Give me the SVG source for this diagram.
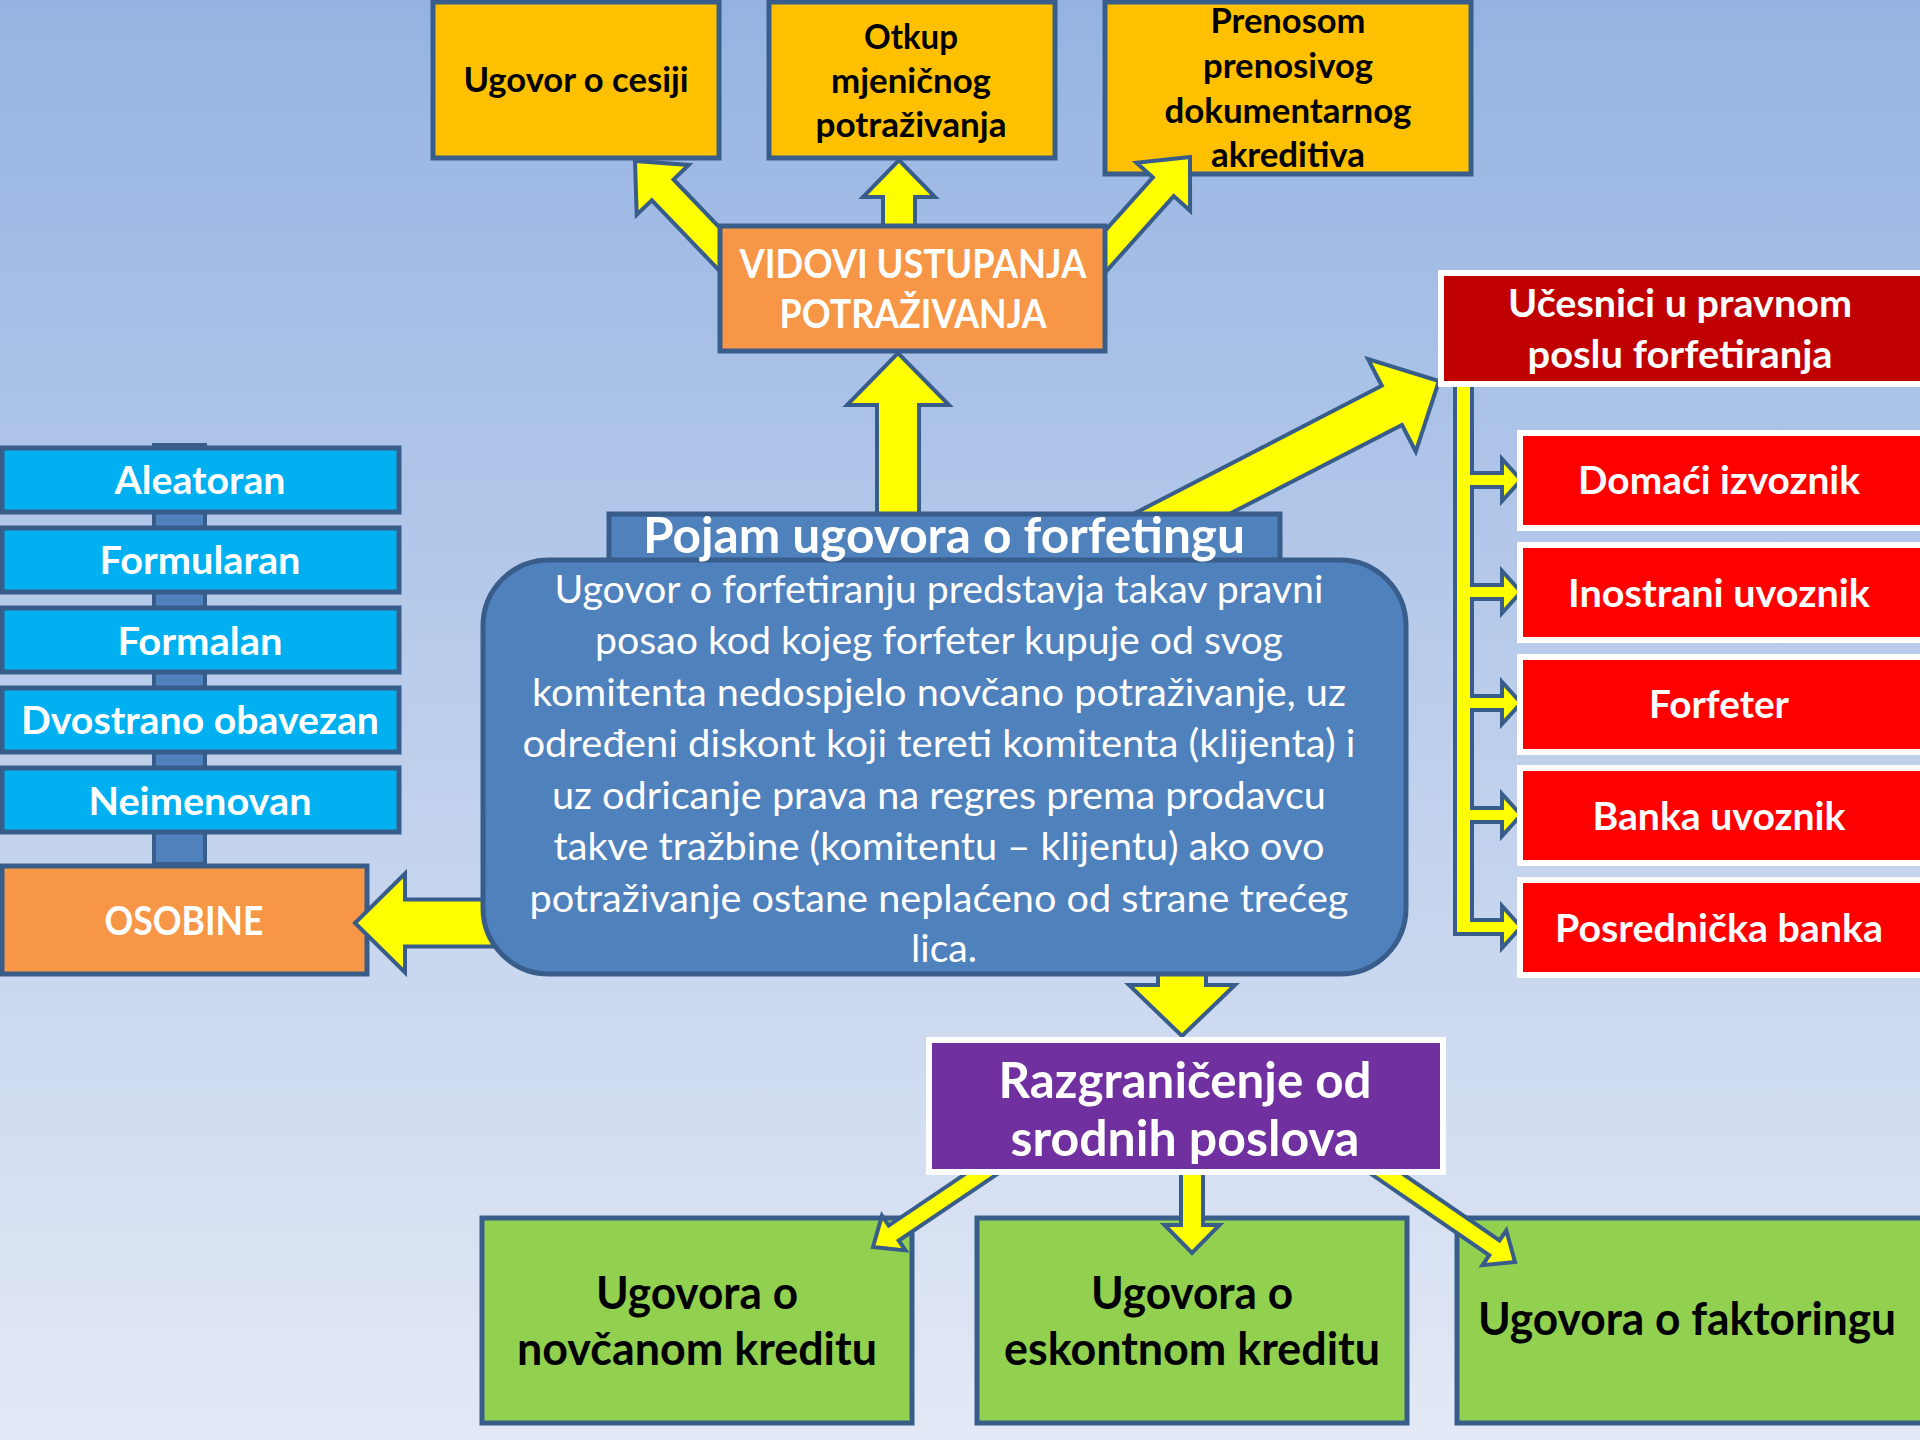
<svg xmlns="http://www.w3.org/2000/svg" width="1920" height="1440" viewBox="0 0 1920 1440">
<defs>
<linearGradient id="bg" x1="0" y1="0" x2="0" y2="1">
<stop offset="0" stop-color="#95B3E2"/>
<stop offset="1" stop-color="#E3E9F5"/>
</linearGradient>
<style>
.box{stroke:#385D8A;stroke-width:5}
.wbox{stroke:#FFFFFF;stroke-width:6}
.arr{fill:#FFFF00;stroke:#385D8A;stroke-width:4;stroke-linejoin:miter}
.gold{fill:#FFC000}
.orange{fill:#F79646}
.blue{fill:#4F81BD}
.cyan{fill:#00B0F0}
.dred{fill:#C00000}
.red{fill:#FF0000}
.purple{fill:#7030A0}
.green{fill:#92D050}
text{font-family:Lato,"Open Sans","Liberation Sans",sans-serif;text-anchor:middle}
.b{font-weight:bold}
.w{fill:#FFFFFF}
.k{fill:#000000}
</style>
</defs>
<rect x="0" y="0" width="1920" height="1440" fill="url(#bg)"/>

<!-- lower-layer nodes -->
<g id="node-cesija">
<rect class="box gold" x="433" y="2" width="286" height="156"/>
<text class="b k" x="576" y="92" font-size="34" textLength="225" lengthAdjust="spacingAndGlyphs">Ugovor o cesiji</text>
</g>
<g id="node-otkup">
<rect class="box gold" x="769" y="2" width="286" height="156"/>
<text class="b k" font-size="34"><tspan x="911" y="49" textLength="94" lengthAdjust="spacingAndGlyphs">Otkup</tspan><tspan x="911" y="93" textLength="160" lengthAdjust="spacingAndGlyphs">mjeničnog</tspan><tspan x="911" y="137" textLength="191" lengthAdjust="spacingAndGlyphs">potraživanja</tspan></text>
</g>
<g id="node-prenos">
<rect class="box gold" x="1105" y="2" width="366" height="172"/>
<text class="b k" font-size="34"><tspan x="1288" y="33" textLength="155" lengthAdjust="spacingAndGlyphs">Prenosom</tspan><tspan x="1288" y="78" textLength="170" lengthAdjust="spacingAndGlyphs">prenosivog</tspan><tspan x="1288" y="123" textLength="247" lengthAdjust="spacingAndGlyphs">dokumentarnog</tspan><tspan x="1288" y="167" textLength="154" lengthAdjust="spacingAndGlyphs">akreditiva</tspan></text>
</g>
<g id="node-novcani">
<rect class="box green" x="482" y="1218" width="430" height="205"/>
<text class="b k" font-size="45"><tspan x="697" y="1309" textLength="202" lengthAdjust="spacingAndGlyphs">Ugovora o</tspan><tspan x="697" y="1365" textLength="360" lengthAdjust="spacingAndGlyphs">novčanom kreditu</tspan></text>
</g>
<g id="node-eskontni">
<rect class="box green" x="977" y="1218" width="430" height="205"/>
<text class="b k" font-size="45"><tspan x="1192" y="1309" textLength="202" lengthAdjust="spacingAndGlyphs">Ugovora o</tspan><tspan x="1192" y="1365" textLength="376" lengthAdjust="spacingAndGlyphs">eskontnom kreditu</tspan></text>
</g>
<g id="node-faktoring">
<rect class="box green" x="1457" y="1218" width="470" height="205"/>
<text class="b k" x="1687" y="1335" font-size="45" textLength="418" lengthAdjust="spacingAndGlyphs">Ugovora o faktoringu</text>
</g>
<g id="node-osobine">
<rect class="box orange" x="2" y="866" width="365" height="108"/>
<text class="b w" x="184" y="935" font-size="40" textLength="159" lengthAdjust="spacingAndGlyphs">OSOBINE</text>
</g>

<!-- connectors -->
<g id="connectors">
<rect x="154" y="445" width="51" height="419" fill="#4F81BD" stroke="#385D8A" stroke-width="4"/>
<polygon class="arr" transform="translate(635,161) rotate(226.2)" points="-160,-15 -40,-15 -40,-36 0,0 -40,36 -40,15 -160,15"/>
<polygon class="arr" transform="translate(899,160) rotate(-90)" points="-75,-16 -37,-16 -37,-36 0,0 -37,36 -37,16 -75,16"/>
<polygon class="arr" transform="translate(1190,157) rotate(-48.1)" points="-160,-14 -40,-14 -40,-36 0,0 -40,36 -40,14 -160,14"/>
<polygon class="arr" transform="translate(898,353) rotate(-90)" points="-175,-21 -52,-21 -52,-51 0,0 -52,51 -52,21 -175,21"/>
<polygon class="arr" transform="translate(1439,381) rotate(-27.3)" points="-340,-22 -53,-22 -53,-52 0,0 -53,52 -53,22 -340,22"/>
<polygon class="arr" transform="translate(355,923) rotate(180)" points="-180,-23.5 -50,-23.5 -50,-49.5 0,0 -50,49.5 -50,23.5 -180,23.5"/>
<polygon class="arr" transform="translate(1182,1036) rotate(90)" points="-90,-24 -51,-24 -51,-53 0,0 -51,53 -51,24 -90,24"/>
<polygon class="arr" transform="translate(873,1247) rotate(146)" points="-150,-9 -25,-9 -25,-21 0,0 -25,21 -25,9 -150,9"/>
<polygon class="arr" transform="translate(1192,1253) rotate(90)" points="-90,-11 -28,-11 -28,-27.5 0,0 -28,27.5 -28,11 -90,11"/>
<polygon class="arr" transform="translate(1515,1262) rotate(34.5)" points="-175,-9 -25,-9 -25,-21 0,0 -25,21 -25,9 -175,9"/>
<path class="arr" d="M1455,378 H1472 V473 H1502 V459 L1521,480 L1502,501 V487 H1472 V585 H1502 V571 L1521,592 L1502,613 V599 H1472 V696 H1502 V682 L1521,703 L1502,724 V710 H1472 V808 H1502 V794 L1521,815 L1502,836 V822 H1472 V920 H1502 V906 L1521,927 L1502,948 V934 H1455 Z"/>
</g>

<!-- upper-layer nodes -->
<g id="node-aleatoran">
<rect class="box cyan" x="2" y="448" width="397" height="64"/>
<text class="b w" x="200" y="494" font-size="39" textLength="171" lengthAdjust="spacingAndGlyphs">Aleatoran</text>
</g>
<g id="node-formularan">
<rect class="box cyan" x="2" y="528" width="397" height="64"/>
<text class="b w" x="200" y="574" font-size="39" textLength="201" lengthAdjust="spacingAndGlyphs">Formularan</text>
</g>
<g id="node-formalan">
<rect class="box cyan" x="2" y="608" width="397" height="64"/>
<text class="b w" x="200" y="655" font-size="39" textLength="165" lengthAdjust="spacingAndGlyphs">Formalan</text>
</g>
<g id="node-dvostrano">
<rect class="box cyan" x="2" y="688" width="397" height="64"/>
<text class="b w" x="200" y="734" font-size="39" textLength="358" lengthAdjust="spacingAndGlyphs">Dvostrano obavezan</text>
</g>
<g id="node-neimenovan">
<rect class="box cyan" x="2" y="768" width="397" height="64"/>
<text class="b w" x="200" y="815" font-size="39" textLength="223" lengthAdjust="spacingAndGlyphs">Neimenovan</text>
</g>

<g id="node-vidovi">
<rect class="box orange" x="720" y="226" width="385" height="125"/>
<text class="b w" font-size="40"><tspan x="913" y="278" textLength="347" lengthAdjust="spacingAndGlyphs">VIDOVI USTUPANJA</tspan><tspan x="913" y="328" textLength="267" lengthAdjust="spacingAndGlyphs">POTRAŽIVANJA</tspan></text>
</g>

<g id="node-pojam">
<rect class="box blue" x="609" y="514" width="671" height="60"/>
<rect class="box blue" x="483" y="560" width="923" height="414" rx="66" ry="66"/>
<text class="b w" x="944" y="553" font-size="50" textLength="602" lengthAdjust="spacingAndGlyphs">Pojam ugovora o forfetingu</text>
<text class="w" font-size="39.5">
<tspan x="944" y="603" textLength="769" lengthAdjust="spacingAndGlyphs">Ugovor o forfetiranju predstavja takav pravni</tspan>
<tspan x="944" y="654" textLength="688" lengthAdjust="spacingAndGlyphs">posao kod kojeg forfeter kupuje od svog</tspan>
<tspan x="944" y="706" textLength="814" lengthAdjust="spacingAndGlyphs">komitenta nedospjelo novčano potraživanje, uz</tspan>
<tspan x="944" y="757" textLength="833" lengthAdjust="spacingAndGlyphs">određeni diskont koji tereti komitenta (klijenta) i</tspan>
<tspan x="944" y="809" textLength="774" lengthAdjust="spacingAndGlyphs">uz odricanje prava na regres prema prodavcu</tspan>
<tspan x="944" y="860" textLength="771" lengthAdjust="spacingAndGlyphs">takve tražbine (komitentu – klijentu) ako ovo</tspan>
<tspan x="944" y="912" textLength="819" lengthAdjust="spacingAndGlyphs">potraživanje ostane neplaćeno od strane trećeg</tspan>
<tspan x="944" y="962" textLength="66" lengthAdjust="spacingAndGlyphs">lica.</tspan>
</text>
</g>

<g id="node-ucesnici">
<rect class="wbox dred" x="1441" y="273" width="490" height="111"/>
<text class="b w" font-size="39"><tspan x="1680" y="317" textLength="344" lengthAdjust="spacingAndGlyphs">Učesnici u pravnom</tspan><tspan x="1680" y="368" textLength="305" lengthAdjust="spacingAndGlyphs">poslu forfetiranja</tspan></text>
</g>
<g id="node-domaci">
<rect class="wbox red" x="1520" y="433" width="410" height="95"/>
<text class="b w" x="1719" y="494" font-size="39" textLength="282" lengthAdjust="spacingAndGlyphs">Domaći izvoznik</text>
</g>
<g id="node-inostrani">
<rect class="wbox red" x="1520" y="545" width="410" height="95"/>
<text class="b w" x="1719" y="607" font-size="39" textLength="302" lengthAdjust="spacingAndGlyphs">Inostrani uvoznik</text>
</g>
<g id="node-forfeter">
<rect class="wbox red" x="1520" y="657" width="410" height="95"/>
<text class="b w" x="1719" y="718" font-size="39" textLength="140" lengthAdjust="spacingAndGlyphs">Forfeter</text>
</g>
<g id="node-banka">
<rect class="wbox red" x="1520" y="768" width="410" height="95"/>
<text class="b w" x="1719" y="830" font-size="39" textLength="253" lengthAdjust="spacingAndGlyphs">Banka uvoznik</text>
</g>
<g id="node-posrednicka">
<rect class="wbox red" x="1520" y="880" width="410" height="95"/>
<text class="b w" x="1719" y="942" font-size="39" textLength="328" lengthAdjust="spacingAndGlyphs">Posrednička banka</text>
</g>

<g id="node-razgranicenje">
<rect class="wbox purple" x="929" y="1040" width="514" height="132"/>
<text class="b w" font-size="49"><tspan x="1185" y="1098" textLength="373" lengthAdjust="spacingAndGlyphs">Razgraničenje od</tspan><tspan x="1185" y="1156" textLength="349" lengthAdjust="spacingAndGlyphs">srodnih poslova</tspan></text>
</g>
</svg>
